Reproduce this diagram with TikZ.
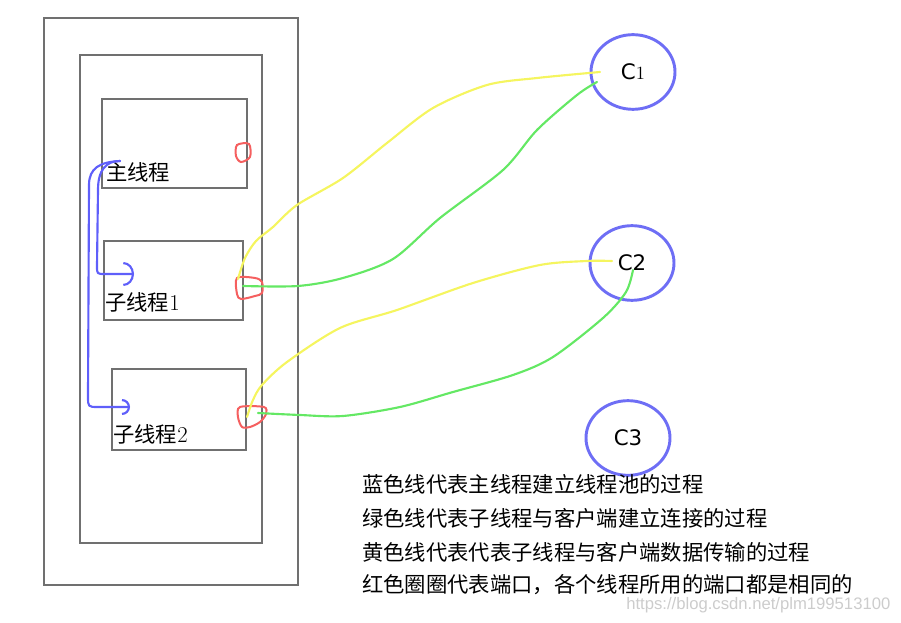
\documentclass[tikz,border=0pt]{standalone}
\usepackage{fontspec}
\newfontfamily\cjk{Noto Sans CJK SC}
\newfontfamily\cfont{DejaVu Sans}
\newfontfamily\wmfont{Liberation Sans}
\usetikzlibrary{arrows.meta,fit,shapes.geometric}

\definecolor{boxgray}{RGB}{112,112,112}
\definecolor{cblue}{RGB}{110,110,245}
\definecolor{tblue}{RGB}{95,95,250}
\definecolor{lgreen}{RGB}{100,232,100}
\definecolor{lyellow}{RGB}{245,245,95}
\definecolor{lred}{RGB}{245,95,95}

\tikzset{
  box/.style={draw=boxgray, line width=2.2pt, inner sep=0pt},
  client/.style={ellipse, draw=cblue, line width=2.2pt, inner sep=0pt,
    minimum width=63pt, minimum height=56pt,
    font=\cfont\fontsize{16}{18}\selectfont},
  lbl/.style={inner sep=0pt, anchor=west, font=\cjk\fontsize{16}{18}\selectfont},
  portmark/.style={draw=lred, line width=1.5pt},
  thread/.style={draw=tblue, line width=1.6pt, line cap=round, line join=round},
  link/.style={draw=lgreen, line width=1.6pt, line cap=round},
  xfer/.style={draw=lyellow, line width=1.6pt, line cap=round},
  wm/.style={inner sep=0pt, anchor=west, text=gray!40,
    font=\wmfont\fontsize{12.5}{14}\selectfont}
}

\begin{document}
\begin{tikzpicture}[x=0.75pt,y=-0.75pt]
  \useasboundingbox (0,0) rectangle (901,623);
  % server and thread pool
  \node[box, fit={(44,18) (298,585)}] (server) {};
  \node[box, fit={(80,55) (262,543)}] (pool) {};
  % threads
  \node[box, fit={(102,99) (247,188)}] (main) {};
  \node[box, fit={(104,241) (243,320)}] (sub1) {};
  \node[box, fit={(112,369) (246,450)}] (sub2) {};
  \node[lbl] (mainlbl) at (106,172) {主线程};
  \node[lbl] (sub1lbl) at (105,302) {子线程{\rmfamily\fontsize{17}{18}\selectfont 1}};
  \node[lbl] (sub2lbl) at (113,434) {子线程{\rmfamily\fontsize{17}{18}\selectfont 2}};
  % clients
  \node[client] (c1) at (633,72) {C{\rmfamily\fontsize{14}{16}\selectfont 1}};
  \node[client] (c2) at (632,263) {C2};
  \node[client] (c3) at (628,438) {C3};
  % ports
  \coordinate (p0) at (243,152);
  \coordinate (p1) at (247,288);
  \coordinate (p2) at (252,417);
  \draw[portmark, shift={(p0)}] plot[smooth cycle] coordinates
    {(-6,-7) (6,-8) (7,5) (-2,10) (-7,4)};
  \draw[portmark, shift={(p1)}] plot[smooth cycle] coordinates
    {(-10,-10) (8,-10) (15,-6) (15,5) (8,8) (-6,11) (-10,6)};
  \draw[portmark, shift={(p2)}] plot[smooth cycle] coordinates
    {(-12,-10) (12,-10) (14,-3) (8,5) (-2,10) (-10,10) (-14,0)};
  % main thread builds the pool
  \coordinate (bs) at (120,161);
  \coordinate (bt1) at (134,274);
  \coordinate (bt2) at (130,407);
  \draw[thread, -{Arc Barb[length=8pt,width=18pt]}] (bs)
    .. controls (106,161) and (98,170) .. (98,190) -- (97,266)
    .. controls (97,274) .. (105,274) -- (bt1);
  \draw[thread, -{Arc Barb[length=6pt,width=12pt]}] (bs)
    .. controls (100,162) and (89,168) .. (89,185) -- (88,396)
    .. controls (88,407) .. (98,407) -- (bt2);
  % client ends
  \coordinate (c1g) at ([shift={(-36,10)}]c1.center);
  \coordinate (c1y) at ([shift={(-33,0)}]c1.center);
  \coordinate (c2g) at ([shift={(1,7)}]c2.center);
  \coordinate (c2y) at ([shift={(-20,-2)}]c2.center);
  % connections
  \draw[link] plot[smooth] coordinates {(243,286) (298,286) (343,278) (393,259)
    (440,218) (503,170) (537,130) (577,95) (c1g)};
  \draw[link] plot[smooth] coordinates {(258,413) (300,415) (343,416) (400,407)
    (453,392) (513,375) (553,357) (603,318) (626,292) (c2g)};
  % data transfer
  \draw[xfer] plot[smooth] coordinates {(238,279) (245,258) (256,241) (273,227)
    (297,205) (343,178) (387,143) (433,108) (487,85) (537,78) (c1y)};
  \draw[xfer] plot[smooth] coordinates {(247,417) (253,400) (262,385) (287,362)
    (340,328) (397,310) (473,283) (540,265) (587,261) (c2y)};
  % legend
  \node[lbl] (leg1) at (362,484) {蓝色线代表主线程建立线程池的过程};
  \node[lbl] (leg2) at (362,518) {绿色线代表子线程与客户端建立连接的过程};
  \node[lbl] (leg3) at (362,552) {黄色线代表代表子线程与客户端数据传输的过程};
  \node[lbl] (leg4) at (362,585) {红色圈圈代表端口，各个线程所用的端口都是相同的};
  \node[wm] (wmark) at (626,605) {https://blog.csdn.net/plm199513100};
\end{tikzpicture}
\end{document}
